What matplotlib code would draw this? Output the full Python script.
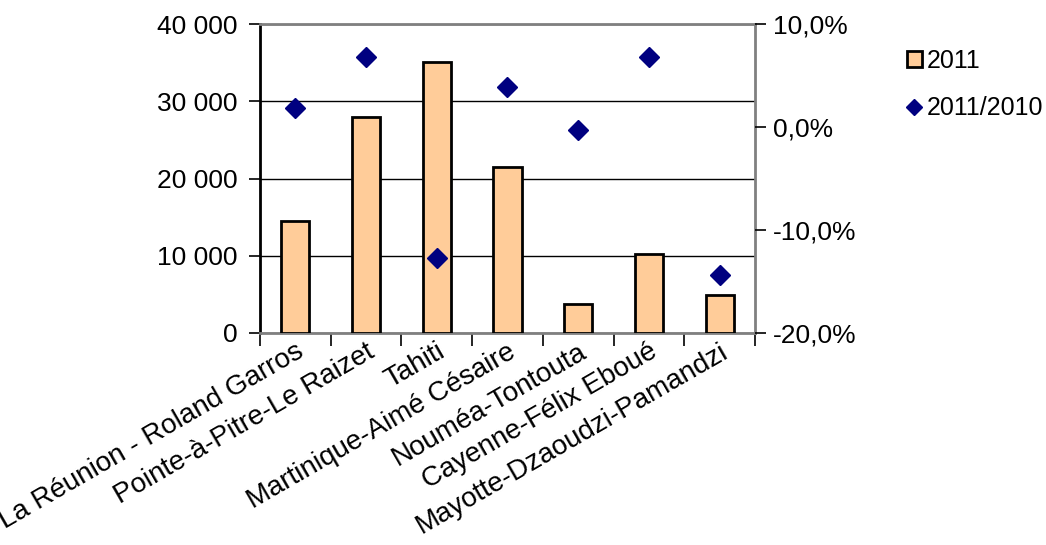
import matplotlib.pyplot as plt
from matplotlib.ticker import FuncFormatter, FixedLocator
from matplotlib.lines import Line2D
from matplotlib.patches import Patch

plt.rcParams['font.family'] = ['Liberation Sans', 'DejaVu Sans']

# donnees
aeroports = ['La Réunion - Roland Garros', 'Pointe-à-Pitre-Le Raizet', 'Tahiti',
             'Martinique-Aimé Césaire', 'Nouméa-Tontouta', 'Cayenne-Félix Eboué',
             'Mayotte-Dzaoudzi-Pamandzi']
passagers_2011 = [14500, 27900, 35100, 21500, 3800, 10200, 4900]
evolution = [0.018, 0.068, -0.127, 0.039, -0.003, 0.068, -0.144]

fig = plt.figure(figsize=(10.46, 5.45), dpi=100)
ax = fig.add_axes([260 / 1046, 1 - 333 / 545, 495 / 1046, 309 / 545])
x_pos = range(len(aeroports))

ax.bar(x_pos, passagers_2011, 0.4, color='#FFCC99', edgecolor='black', linewidth=2, zorder=3)
ax.set_xlim(-0.5, len(aeroports) - 0.5)
ax.set_ylim(0, 40000)
ax.set_yticks([0, 10000, 20000, 30000, 40000])
ax.yaxis.set_major_formatter(FuncFormatter(lambda v, p: f'{int(v):,}'.replace(',', ' ')))
ax.yaxis.grid(True, color='black', linewidth=1)
ax.set_axisbelow(True)

# axe x : traits entre les categories
ax.set_xticks(list(x_pos))
ax.set_xticklabels(aeroports, rotation=30, ha='right', rotation_mode='anchor', fontsize=20)
ax.tick_params(axis='x', which='major', length=0, pad=4)
ax.xaxis.set_minor_locator(FixedLocator([i - 0.5 for i in range(len(aeroports) + 1)]))
ax.tick_params(axis='x', which='minor', length=9, width=1.2, color='black')
ax.tick_params(axis='y', length=8, width=1.2, labelsize=19, pad=8)

for s in ['top', 'right', 'bottom']:
    ax.spines[s].set_color('#808080')
    ax.spines[s].set_linewidth(2)
ax.spines['left'].set_color('black')
ax.spines['left'].set_linewidth(2)

# axe secondaire
ax2 = ax.twinx()
ax2.plot(x_pos, evolution, linestyle='none', marker='D', markersize=10, color='#000080', zorder=4)
ax2.set_ylim(-0.2, 0.1)
ax2.set_yticks([-0.2, -0.1, 0.0, 0.1])
ax2.yaxis.set_major_formatter(FuncFormatter(lambda v, p: f'{v * 100:.1f}%'.replace('.', ',')))
ax2.tick_params(axis='y', length=8, width=1.2, labelsize=19, pad=5)
for s in ax2.spines.values():
    s.set_visible(False)

# legende
handles = [Patch(facecolor='#FFCC99', edgecolor='black', linewidth=2),
           Line2D([], [], linestyle='none', marker='D', markersize=8, color='#000080')]
fig.legend(handles, ['2011', '2011/2010'], loc='upper left', bbox_to_anchor=(899 / 1046, 1 - 41 / 545),
           frameon=False, fontsize=18, handlelength=0.6, handleheight=0.6, handletextpad=0.2,
           labelspacing=0.95, borderaxespad=0, borderpad=0.3)

fig.savefig('out.png', dpi=100)
